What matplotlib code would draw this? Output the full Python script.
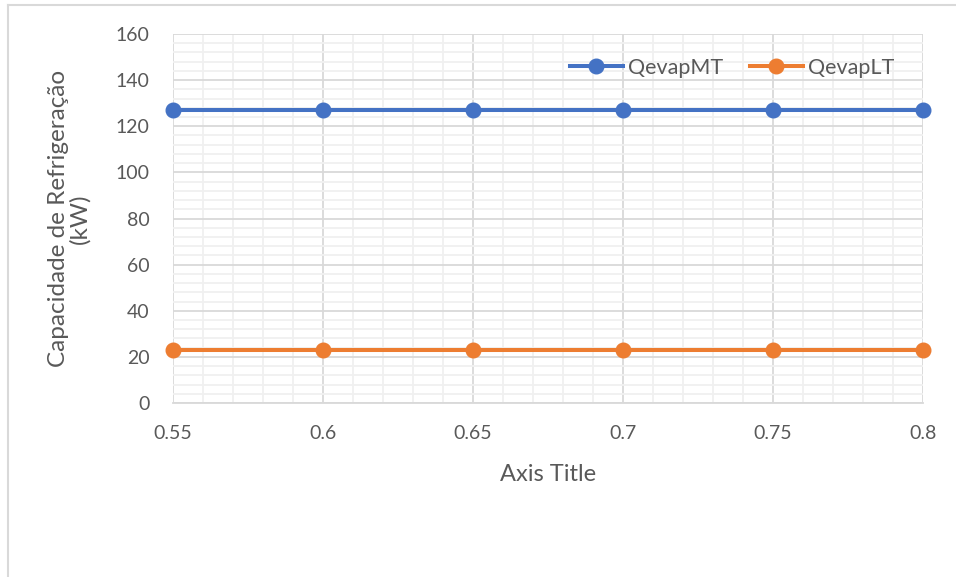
import numpy as np
import matplotlib.pyplot as plt
from matplotlib.ticker import MultipleLocator
from matplotlib.lines import Line2D

# efficiency values on the x axis
eff = [0.55, 0.6, 0.65, 0.7, 0.75, 0.8]
# evaporator capacities (kW)
q_evap_mt = [127, 127, 127, 127, 127, 127]
q_evap_lt = [23, 23, 23, 23, 23, 23]

blue = '#4472C4'
orange = '#ED7D31'
text_col = '#595959'

plt.rcParams['font.family'] = ['Lato', 'DejaVu Sans']

fig = plt.figure(figsize=(9.56, 5.77), dpi=100)
ax = fig.add_axes([173 / 956, 1 - 403 / 577, 750 / 956, 369 / 577])

ax.plot(eff, q_evap_mt, color=blue, lw=2.9, marker='o', ms=10.5,
        label='QevapMT', clip_on=False, zorder=3)
ax.plot(eff, q_evap_lt, color=orange, lw=2.9, marker='o', ms=10.5,
        label='QevapLT', clip_on=False, zorder=3)

ax.set_xlim(0.55, 0.8)
ax.set_ylim(0, 160)
ax.xaxis.set_major_locator(MultipleLocator(0.05))
ax.xaxis.set_minor_locator(MultipleLocator(0.01))
ax.yaxis.set_major_locator(MultipleLocator(20))
ax.yaxis.set_minor_locator(MultipleLocator(4))
ax.set_xticklabels([f'{v:g}' for v in ax.get_xticks()])

ax.grid(which='major', color='#d9d9d9', lw=1.3, zorder=1)
ax.grid(which='minor', color='#f0f0f0', lw=1.3, zorder=0)
ax.set_axisbelow(True)
for s in ['top', 'right', 'left']:
    ax.spines[s].set_visible(False)
ax.spines['bottom'].set_color('#d9d9d9')
ax.spines['bottom'].set_linewidth(1.3)

ax.tick_params(which='both', length=0, labelsize=14, colors=text_col)
ax.tick_params(axis='x', pad=16)
ax.tick_params(axis='y', pad=17)

ax.set_xlabel('Axis Title', fontsize=17, color=text_col, labelpad=16)
ax.set_ylabel('Capacidade de Refrigeração\n(kW)', fontsize=17.5,
              color=text_col, labelpad=18, linespacing=1.0)

ax.legend(loc='center right', bbox_to_anchor=(0.962, 0.908), ncol=2, frameon=False,
          fontsize=15.5, labelcolor=text_col, handlelength=2.45,
          handletextpad=0.25, columnspacing=1.25, borderaxespad=0, borderpad=0)

# light chart border (left and top edges)
fig.add_artist(Line2D([7.5 / 956, 7.5 / 956], [0, 1 - 5 / 577],
                      color='#d9d9d9', lw=1.5, transform=fig.transFigure))
fig.add_artist(Line2D([7.5 / 956, 1], [1 - 5 / 577, 1 - 5 / 577],
                      color='#d9d9d9', lw=1.5, transform=fig.transFigure))

fig.savefig('out.png', dpi=100)
